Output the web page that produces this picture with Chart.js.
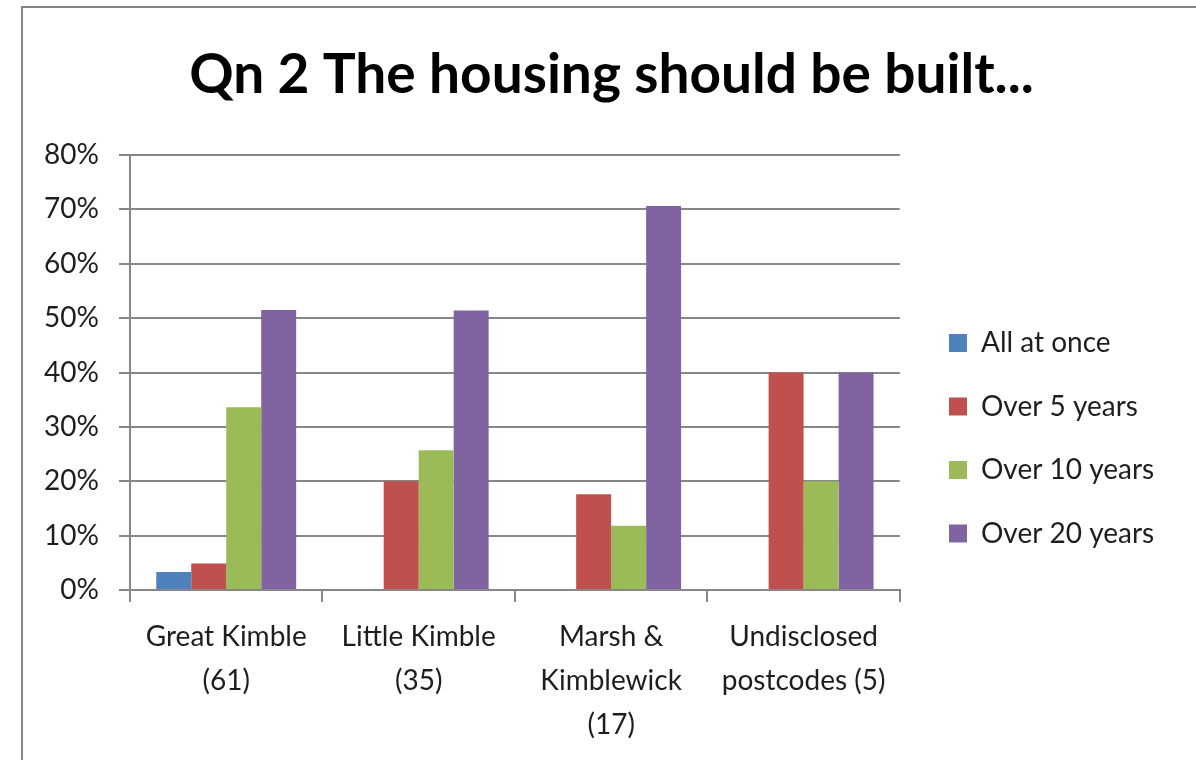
<!DOCTYPE html>
<html>
<head>
<meta charset="utf-8">
<script src="https://cdn.jsdelivr.net/npm/chart.js@4/dist/chart.umd.min.js"></script>
<style>
  html, body { margin: 0; padding: 0; background: #fff; overflow: hidden; }
  #frame { position: absolute; left: 21px; top: 6px; width: 1300px; height: 900px;
           border-left: 2px solid #878787; border-top: 2px solid #878787; }
  #c { position: absolute; left: 0; top: 0; }
</style>
</head>
<body>
<div id="frame"></div>
<canvas id="c" width="1196" height="760"></canvas>
<script>
// ---- data ----
const categories = [
  ['Great Kimble', '(61)'],
  ['Little Kimble', '(35)'],
  ['Marsh &', 'Kimblewick', '(17)'],
  ['Undisclosed', 'postcodes (5)']
];
const seriesNames = ['All at once', 'Over 5 years', 'Over 10 years', 'Over 20 years'];
const allAtOnce   = [3.3, 0, 0, 0];
const over5Years  = [4.9, 20.0, 17.6, 40.0];
const over10Years = [33.6, 25.7, 11.8, 20.0];
const over20Years = [51.5, 51.4, 70.6, 40.0];
const yTicks = [0, 10, 20, 30, 40, 50, 60, 70, 80];

// ---- style / layout ----
const colors = ['#4F81BD', '#C0504D', '#9BBB59', '#8064A2'];
const gridColor = '#878787';
const textColor = '#1e1e1e';
const FONT = 'Lato, "Open Sans", sans-serif';
const FS = 28;
const LEGEND_PAD = 35.5;
const LEGEND_LEFT = 913.5;
const LEGEND_TOP = 293.5;
const TITLE_CX = 611.5;

const placeBoxes = {
  id: 'placeBoxes',
  afterLayout(chart) {
    const lg = chart.legend;
    if (lg) {
      const w = lg.width, h = lg.height;
      lg.left = LEGEND_LEFT; lg.right = LEGEND_LEFT + w;
      lg.top = LEGEND_TOP; lg.bottom = LEGEND_TOP + h;
    }
    const t = chart.titleBlock;
    if (t) {
      const dx = TITLE_CX - (t.left + t.right) / 2;
      t.left += dx; t.right += dx;
    }
  }
};

const seriesValues = [allAtOnce, over5Years, over10Years, over20Years];

new Chart(document.getElementById('c'), {
  type: 'bar',
  data: {
    labels: categories,
    datasets: seriesNames.map((name, i) => ({
      label: name,
      data: seriesValues[i],
      backgroundColor: colors[i],
      borderWidth: 0,
      categoryPercentage: 0.727,
      barPercentage: 1.0
    }))
  },
  options: {
    responsive: false,
    devicePixelRatio: 1,
    animation: false,
    layout: { padding: { top: 0, bottom: 0, left: 43, right: 45.5 } },
    plugins: {
      title: {
        display: true,
        text: 'Qn 2 The housing should be built...',
        color: '#000',
        font: { family: FONT, size: 55, weight: 'bold', lineHeight: 1.2 },
        padding: { top: 42, bottom: 47 }
      },
      legend: {
        position: 'right',
        align: 'start',
        labels: {
          boxWidth: 18,
          boxHeight: 18,
          padding: LEGEND_PAD,
          color: textColor,
          font: { family: FONT, size: FS }
        }
      },
      tooltip: { enabled: false }
    },
    scales: {
      x: {
        grid: {
          offset: true,
          drawOnChartArea: false,
          drawTicks: true,
          tickLength: 12,
          color: gridColor,
          lineWidth: 2
        },
        border: { display: true, color: gridColor, width: 2 },
        ticks: {
          color: textColor,
          font: { family: FONT, size: FS, lineHeight: 1.571 },
          padding: 13,
          autoSkip: false,
          maxRotation: 0,
          minRotation: 0
        }
      },
      y: {
        min: yTicks[0],
        max: yTicks[yTicks.length - 1],
        afterFit(scale) { scale.width = 87; },
        afterBuildTicks(scale) { scale.ticks = yTicks.map(v => ({ value: v })); },
        grid: {
          color: gridColor,
          lineWidth: 2,
          drawTicks: true,
          tickLength: 11
        },
        border: { display: true, color: gridColor, width: 2 },
        ticks: {
          color: textColor,
          font: { family: FONT, size: FS },
          padding: 20,
          callback: v => v + '%'
        }
      }
    }
  },
  plugins: [placeBoxes]
});
</script>
</body>
</html>
